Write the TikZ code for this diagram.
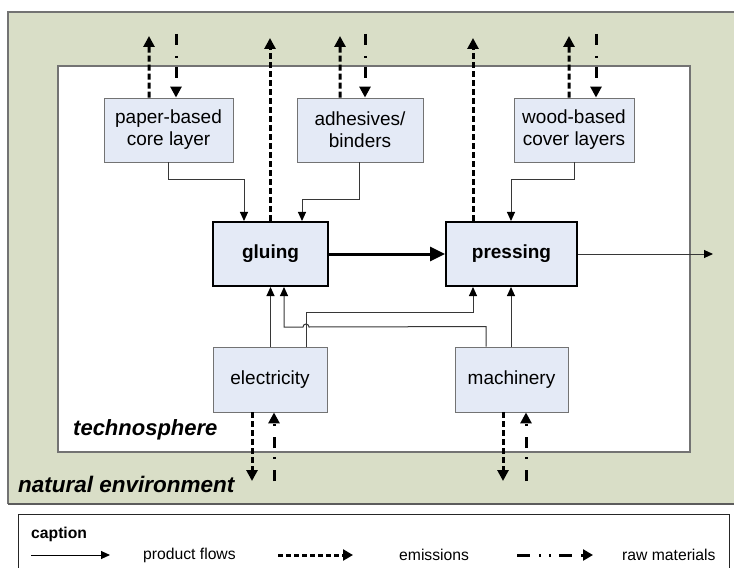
\documentclass[tikz,border=0pt]{standalone}
\usepackage{fontspec}
\setmainfont{Liberation Sans}
\usetikzlibrary{arrows.meta,calc}
\definecolor{envgreen}{RGB}{217,222,199}
\definecolor{envedge}{RGB}{115,115,115}
\definecolor{boxblue}{RGB}{228,234,246}
\definecolor{flowgray}{RGB}{55,55,55}
\begin{document}
\begin{tikzpicture}[x=1bp,y=-1bp,
  lbl/.style={font=\fontsize{19bp}{22bp}\selectfont,align=center},
  supply/.style={lbl,draw=envedge,line width=0.9bp,fill=boxblue,inner sep=0pt,minimum height=64bp},
  process/.style={lbl,draw=black,line width=2bp,fill=boxblue,inner sep=0pt,minimum height=64bp,font=\fontsize{19bp}{22bp}\selectfont\bfseries},
  product/.style={draw=flowgray,line width=1bp,-{Triangle[length=9bp,width=8bp,color=black]}},
  mainflow/.style={draw=black,line width=3bp,-{Triangle[length=15bp,width=14bp]}},
  emission/.style={draw=black,line width=3bp,dash pattern=on 6bp off 3bp,-{Triangle[length=11bp,width=11bp]}},
  rawmat/.style={draw=black,line width=3bp,dash pattern=on 11bp off 11bp on 2bp off 9bp,-{Triangle[length=11bp,width=11bp]}},
  legendtext/.style={font=\fontsize{15.7bp}{18bp}\selectfont,anchor=west,inner sep=0pt}
]
\useasboundingbox (0,0) rectangle (734,568);

% environment and technosphere
\fill[envgreen] (8,12) rectangle (745,504);
\draw[envedge,line width=1.2bp] (745,12) -- (8,12) -- (8,504);
\draw[envedge!80!black,line width=2bp] (8,504) -- (745,504);
\draw[envedge,line width=1.2bp,fill=white] (58,66) rectangle (690,452);

% supply processes
\node[supply,minimum width=129bp] (paper) at (168.5,130) {paper-based\\core layer};
\node[supply,minimum width=126bp] (adh) at (360,130) {adhesives/\\binders};
\node[supply,minimum width=120bp] (wood) at (574,130) {wood-based\\cover layers};
\node[supply,minimum width=114bp,minimum height=65bp] (elec) at (270,379.5) {electricity};
\node[supply,minimum width=113bp,minimum height=65bp] (mach) at (511.5,379.5) {machinery};

% main processes
\node[process,minimum width=115bp] (glue) at (270.5,254) {gluing};
\node[process,minimum width=131bp] (press) at (511.5,254) {pressing};

% product flows into the main processes
\draw[product] (paper.south) -- ++(0,17) -| ([xshift=-26.5bp]glue.north);
\draw[product] ([xshift=-1bp]adh.south) -- ++(0,37) -| ([xshift=31.5bp]glue.north);
\draw[product] (wood.south) -- ++(0,17) -| ([xshift=-0.5bp]press.north);
\draw[product] ([xshift=0.5bp]elec.north) -- ([xshift=0bp]glue.south);
\draw[product] ([xshift=36bp]elec.north) -- ++(0,-34) -| ([xshift=-38.5bp]press.south);
\draw[product] ([xshift=-25.5bp]mach.north) -- ++(0,-20) -- (309,327)
  arc[start angle=0,end angle=-180,radius=3] -| ([xshift=13.5bp]glue.south);
\draw[product] ([xshift=-0.5bp]mach.north) -- ([xshift=-0.5bp]press.south);

\draw[mainflow] (glue.east) -- (press.west);
\coordinate (out) at (713,254);
\draw[product] (press.east) -- (out);

% exchanges with the natural environment
\coordinate (paperE) at (149,36);  \coordinate (paperR) at (176,34);
\coordinate (adhE) at (340,36);    \coordinate (adhR) at (365,34);
\coordinate (woodE) at (569,36);   \coordinate (woodR) at (596,34);
\coordinate (glueE) at (270,38);   \coordinate (pressE) at (473,38);
\coordinate (elecE) at (252,481);  \coordinate (elecR) at (274,481);
\coordinate (machE) at (503,481);  \coordinate (machR) at (526,481);

\draw[emission] ([xshift=-19.5bp]paper.north) -- (paperE);
\draw[rawmat] (paperR) -- (paperR |- paper.north);
\draw[emission] ([xshift=-20bp]adh.north) -- (adhE);
\draw[rawmat] (adhR) -- (adhR |- adh.north);
\draw[emission] ([xshift=-5bp]wood.north) -- (woodE);
\draw[rawmat] (woodR) -- (woodR |- wood.north);
\draw[emission] (glueE |- glue.north) -- (glueE);
\draw[emission] (pressE |- press.north) -- (pressE);
\draw[emission] (elecE |- elec.south) -- (elecE);
\draw[rawmat] (elecR) -- (elecR |- elec.south);
\draw[emission] (machE |- mach.south) -- (machE);
\draw[rawmat] (machR) -- (machR |- mach.south);

% system labels
\node[anchor=west,inner sep=0pt,font=\fontsize{22bp}{24bp}\selectfont\bfseries\itshape] (techno) at (73,430) {technosphere};
\node[anchor=west,inner sep=0pt,font=\fontsize{22.5bp}{26bp}\selectfont\bfseries\itshape] (nature) at (18,484) {natural environment};

% caption
\draw[black!85,line width=1bp,fill=white] (18,575) -- (18,514) -- (729,514) -- (729,575);
\node[legendtext,font=\fontsize{15.7bp}{18bp}\selectfont\bfseries] (cap) at (31,534) {caption};
\coordinate (l1a) at (31,555);  \coordinate (l1b) at (110,555);
\coordinate (l2a) at (278,555); \coordinate (l2b) at (353,555);
\coordinate (l3a) at (517,555); \coordinate (l3b) at (593,555);
\draw[draw=black,line width=1bp,-{Triangle[length=9bp,width=8bp]}] (l1a) -- (l1b);
\draw[draw=black,line width=3bp,dash pattern=on 5bp off 3bp,-{Triangle[length=10bp,width=11bp]}] (l2a) -- (l2b);
\draw[draw=black,line width=3bp,dash pattern=on 13bp off 9bp on 2bp off 8bp on 2bp off 8bp,-{Triangle[length=10bp,width=11bp]}] (l3a) -- (l3b);
\node[legendtext] (t1) at (143,555) {product flows};
\node[legendtext] (t2) at (399,555) {emissions};
\node[legendtext] (t3) at (622,555) {raw materials};
\end{tikzpicture}
\end{document}
